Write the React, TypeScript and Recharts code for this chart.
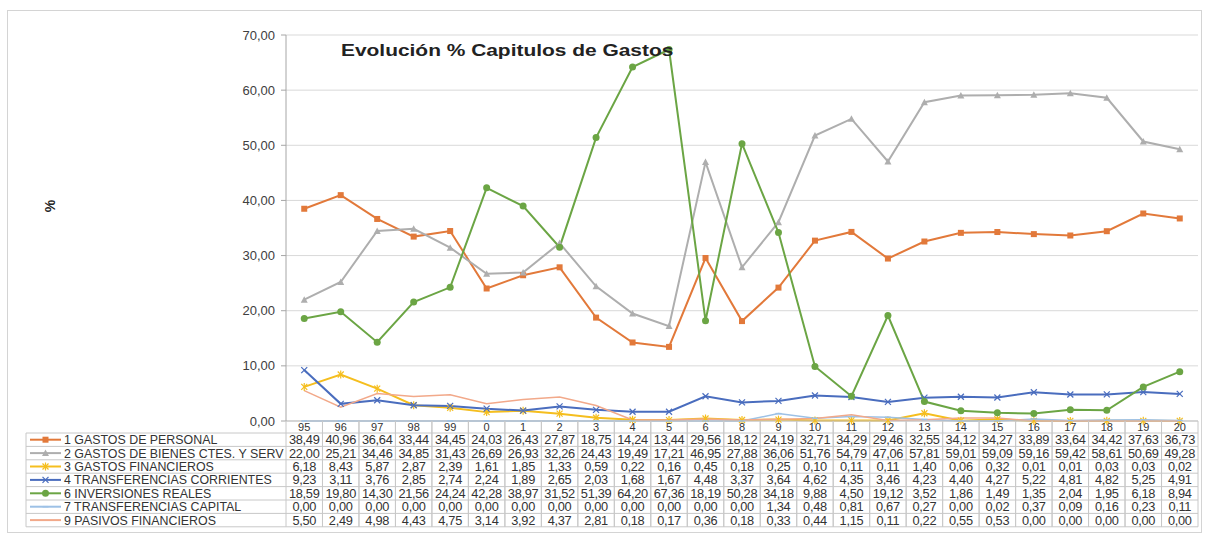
import { LineChart, Line, XAxis, YAxis, CartesianGrid } from 'recharts';

const years = ['95', '96', '97', '98', '99', '0', '1', '2', '3', '4', '5', '6', '8', '9', '10', '11', '12', '13', '14', '15', '16', '17', '18', '19', '20'];

const personal = [38.49, 40.96, 36.64, 33.44, 34.45, 24.03, 26.43, 27.87, 18.75, 14.24, 13.44, 29.56, 18.12, 24.19, 32.71, 34.29, 29.46, 32.55, 34.12, 34.27, 33.89, 33.64, 34.42, 37.63, 36.73];
const bienes = [22.0, 25.21, 34.46, 34.85, 31.43, 26.69, 26.93, 32.26, 24.43, 19.49, 17.21, 46.95, 27.88, 36.06, 51.76, 54.79, 47.06, 57.81, 59.01, 59.09, 59.16, 59.42, 58.61, 50.69, 49.28];
const financieros = [6.18, 8.43, 5.87, 2.87, 2.39, 1.61, 1.85, 1.33, 0.59, 0.22, 0.16, 0.45, 0.18, 0.25, 0.1, 0.11, 0.11, 1.4, 0.06, 0.32, 0.01, 0.01, 0.03, 0.03, 0.02];
const corrientes = [9.23, 3.11, 3.76, 2.85, 2.74, 2.24, 1.89, 2.65, 2.03, 1.68, 1.67, 4.48, 3.37, 3.64, 4.62, 4.35, 3.46, 4.23, 4.4, 4.27, 5.22, 4.81, 4.82, 5.25, 4.91];
const inversiones = [18.59, 19.8, 14.3, 21.56, 24.24, 42.28, 38.97, 31.52, 51.39, 64.2, 67.36, 18.19, 50.28, 34.18, 9.88, 4.5, 19.12, 3.52, 1.86, 1.49, 1.35, 2.04, 1.95, 6.18, 8.94];
const capital = [0, 0, 0, 0, 0, 0, 0, 0, 0, 0, 0, 0, 0, 1.34, 0.48, 0.81, 0.67, 0.27, 0, 0.02, 0.37, 0.09, 0.16, 0.23, 0.11];
const pasivos = [5.5, 2.49, 4.98, 4.43, 4.75, 3.14, 3.92, 4.37, 2.81, 0.18, 0.17, 0.36, 0.18, 0.33, 0.44, 1.15, 0.11, 0.22, 0.55, 0.53, 0, 0, 0, 0, 0];

const yTicks = [0, 10, 20, 30, 40, 50, 60, 70];

const series = [
  { key: 'personal', name: '1 GASTOS DE PERSONAL', values: personal, color: '#E2793A', mark: 'square' },
  { key: 'bienes', name: '2 GASTOS DE BIENES CTES. Y SERV', values: bienes, color: '#AEAEAE', mark: 'triangle' },
  { key: 'financieros', name: '3 GASTOS FINANCIEROS', values: financieros, color: '#F5BE1E', mark: 'star' },
  { key: 'corrientes', name: '4 TRANSFERENCIAS CORRIENTES', values: corrientes, color: '#4A6DBE', mark: 'x' },
  { key: 'inversiones', name: '6 INVERSIONES REALES', values: inversiones, color: '#6BA544', mark: 'circle' },
  { key: 'capital', name: '7 TRANSFERENCIAS CAPITAL', values: capital, color: '#9DC1E6', mark: 'dash' },
  { key: 'pasivos', name: '9 PASIVOS FINANCIEROS', values: pasivos, color: '#F2A98A', mark: 'none' },
];

const data = years.map((y, i) => {
  const row: any = { year: y };
  series.forEach((s) => (row[s.key] = s.values[i]));
  return row;
});

const W = 1208;
const H = 536;
const PLOT_LEFT = 286;
const PLOT_RIGHT = 1198;
const BW = (PLOT_RIGHT - PLOT_LEFT) / years.length;
const HEAD_H = 12;
const ROW_H = 13.4;
const TABLE_LEFT = 26;
const GRID = '#c8c8c8';
const FONT = '"Liberation Sans", Arial, sans-serif';

const fmt = (v: number) => v.toFixed(2).replace('.', ',');

const Marker = ({ cx, cy, mark, color }: any) => {
  if (cx == null || cy == null) return null;
  switch (mark) {
    case 'square':
      return <rect x={cx - 3} y={cy - 3} width={6} height={6} fill={color} />;
    case 'triangle':
      return <polygon points={`${cx},${cy - 3.5} ${cx + 3.5},${cy + 3} ${cx - 3.5},${cy + 3}`} fill={color} />;
    case 'star':
      return (
        <g stroke={color} strokeWidth={1.2}>
          <line x1={cx - 3} y1={cy - 3} x2={cx + 3} y2={cy + 3} />
          <line x1={cx - 3} y1={cy + 3} x2={cx + 3} y2={cy - 3} />
          <line x1={cx} y1={cy - 4} x2={cx} y2={cy + 4} />
        </g>
      );
    case 'x':
      return (
        <g stroke={color} strokeWidth={1.2}>
          <line x1={cx - 3} y1={cy - 3} x2={cx + 3} y2={cy + 3} />
          <line x1={cx - 3} y1={cy + 3} x2={cx + 3} y2={cy - 3} />
        </g>
      );
    case 'circle':
      return <circle cx={cx} cy={cy} r={3.5} fill={color} />;
    case 'dash':
      return <line x1={cx - 3} y1={cy} x2={cx + 3} y2={cy} stroke={color} strokeWidth={1.5} />;
    default:
      return null;
  }
};

const TableTick = (props: any) => {
  const { x, y, payload } = props;
  const i = payload.index;
  const top = y;
  const rowsTop = top + HEAD_H;
  const bottom = rowsTop + ROW_H * series.length;
  return (
    <g fontFamily={FONT} fontSize={12.8} fill="#333">
      <line x1={x - BW / 2} y1={top} x2={x - BW / 2} y2={bottom} stroke={GRID} />
      <line x1={x + BW / 2} y1={top} x2={x + BW / 2} y2={bottom} stroke={GRID} />
      <text x={x} y={top + 10} textAnchor="middle" fontSize={11}>
        {payload.value}
      </text>
      {series.map((s, r) => (
        <text key={s.key} x={x} y={rowsTop + ROW_H * r + 11.2} textAnchor="middle" letterSpacing={-0.3}>
          {fmt(s.values[i])}
        </text>
      ))}
      {i === 0 && (
        <g>
          <line x1={TABLE_LEFT} y1={rowsTop} x2={TABLE_LEFT} y2={bottom} stroke={GRID} />
          {series.map((s, r) => (
            <line key={'h' + r} x1={TABLE_LEFT} y1={rowsTop + ROW_H * r} x2={PLOT_RIGHT} y2={rowsTop + ROW_H * r} stroke={GRID} />
          ))}
          <line x1={TABLE_LEFT} y1={bottom} x2={PLOT_RIGHT} y2={bottom} stroke={GRID} />
          {series.map((s, r) => {
            const cy = rowsTop + ROW_H * r + ROW_H / 2;
            return (
              <g key={'l' + r}>
                <line x1={30} y1={cy} x2={61} y2={cy} stroke={s.color} strokeWidth={2} />
                <Marker cx={45.5} cy={cy} mark={s.mark} color={s.color} />
                <text x={64} y={cy + 4.5} fontSize={12.4}>{s.name}</text>
              </g>
            );
          })}
        </g>
      )}
    </g>
  );
};

export default function App() {
  return (
    <div style={{ position: 'absolute', left: 0, top: 0, width: W, height: H, background: '#fff' }}>
      <div style={{ position: 'absolute', left: 7, top: 10, width: 1195, height: 523, border: '1px solid #d4d4d4', boxSizing: 'border-box' }} />
      <div
        style={{
          position: 'absolute',
          left: 341,
          top: 41,
          fontFamily: FONT,
          fontWeight: 'bold',
          fontSize: 17,
          color: '#222',
          whiteSpace: 'nowrap',
          transform: 'scaleX(1.23)',
          transformOrigin: 'left center',
          zIndex: 2,
        }}
      >
        Evolución % Capitulos de Gastos
      </div>
      <div
        style={{
          position: 'absolute',
          left: 44,
          top: 198,
          fontFamily: FONT,
          fontWeight: 'bold',
          fontSize: 14,
          color: '#222',
          transform: 'rotate(-90deg)',
        }}
      >
        %
      </div>
      <div style={{ position: 'absolute', left: 0, top: 0 }}>
        <LineChart width={W} height={H} data={data} margin={{ top: 35, right: W - PLOT_RIGHT, bottom: 9, left: 0 }}>
          <CartesianGrid vertical={false} stroke="#d9d9d9" />
          <XAxis
            dataKey="year"
            interval={0}
            height={106}
            tickSize={0}
            tickMargin={0}
            tickLine={false}
            axisLine={{ stroke: '#bfbfbf' }}
            padding={{ left: BW / 2, right: BW / 2 }}
            tick={<TableTick />}
          />
          <YAxis
            width={PLOT_LEFT}
            domain={[0, 70]}
            ticks={yTicks}
            interval={0}
            tickSize={5}
            tickMargin={6}
            tickFormatter={fmt}
            axisLine={{ stroke: '#a6a6a6' }}
            tickLine={{ stroke: '#a6a6a6' }}
            tick={{ fontFamily: FONT, fontSize: 13, fill: '#404040' }}
          />
          {series.map((s) => (
            <Line
              key={s.key}
              dataKey={s.key}
              name={s.name}
              type="linear"
              stroke={s.color}
              strokeWidth={s.mark === 'none' || s.mark === 'dash' ? 1.5 : 2}
              dot={(p: any) => <Marker key={s.key + p.index} cx={p.cx} cy={p.cy} mark={s.mark} color={s.color} />}
              activeDot={false}
              isAnimationActive={false}
            />
          ))}
        </LineChart>
      </div>
    </div>
  );
}
